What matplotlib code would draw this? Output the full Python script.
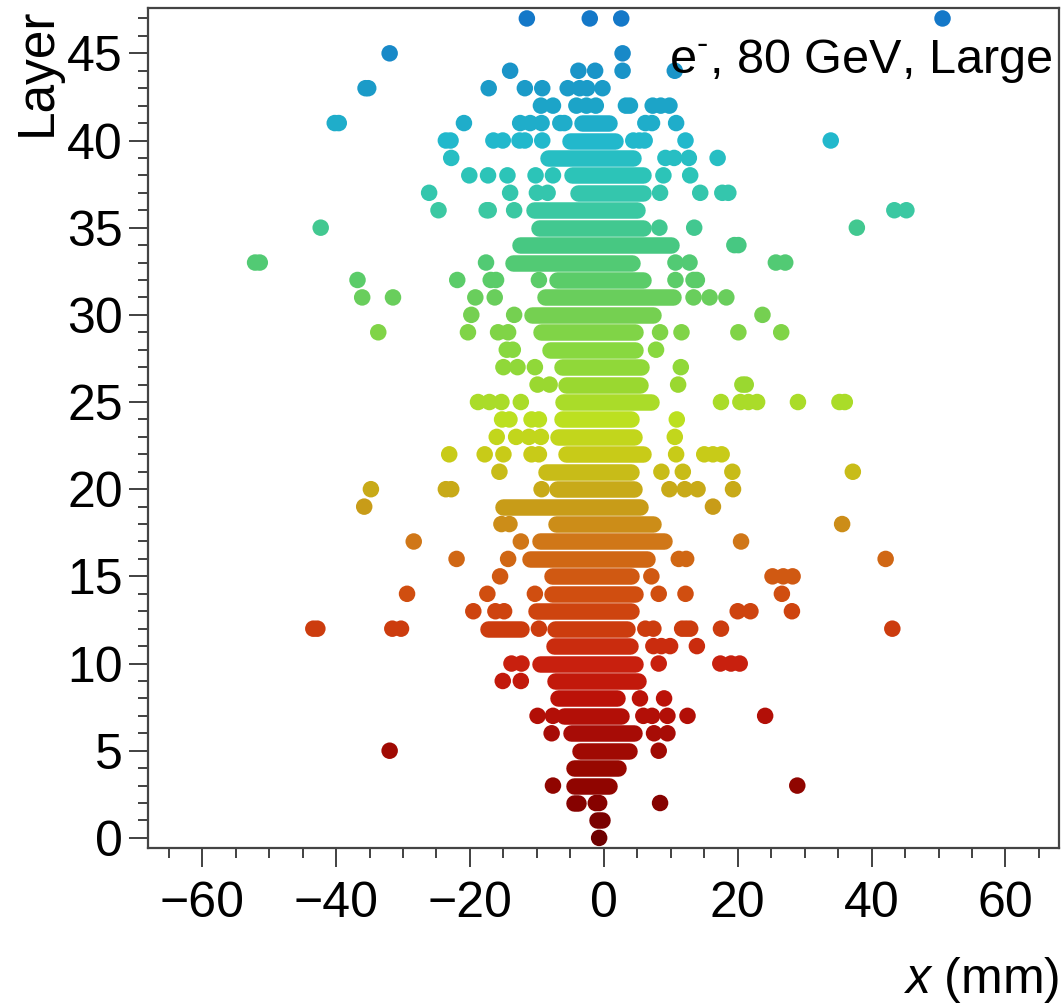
import numpy as np
import matplotlib
matplotlib.use("Agg")
import matplotlib.pyplot as plt
from matplotlib.colors import LinearSegmentedColormap, Normalize
from matplotlib.ticker import MultipleLocator

plt.rcParams['font.family'] = ['Liberation Sans', 'DejaVu Sans']
plt.rcParams['mathtext.fontset'] = 'custom'
plt.rcParams['mathtext.rm'] = 'Liberation Sans'
plt.rcParams['mathtext.it'] = 'Liberation Sans:italic'

# ---------------- data (x in mm, by layer index 0..47) ----------------
n_layers = 48
# isolated hits per layer
hits_x = [
    [-0.7],                                                            # 0
    [],                                                                # 1
    [-1.2, -0.7, 8.4],                                                 # 2
    [-7.6, 28.9],                                                      # 3
    [],                                                                # 4
    [-32.0, 8.2],                                                      # 5
    [-7.8, 7.5, 9.5],                                                  # 6
    [-9.9, -7.6, 5.9, 7.2, 9.5, 12.5, 24.1],                           # 7
    [5.4, 9.0],                                                        # 8
    [-15.1, -12.4],                                                    # 9
    [-13.8, -12.3, 8.2, 17.4, 19.0, 20.3],                             # 10
    [7.4, 8.6, 9.9, 13.9],                                             # 11
    [-43.4, -42.8, -31.6, -30.3, -9.7, 6.2, 7.4, 11.7, 12.3, 12.9, 17.5, 43.1],  # 12
    [-19.5, -16.2, -14.9, 20.0, 21.9, 28.1],                           # 13
    [-29.4, -17.4, -10.3, 8.2, 12.2, 26.6],                            # 14
    [-15.5, 7.1, 25.2, 26.8, 28.2],                                    # 15
    [-22.0, -14.3, 11.2, 12.3, 42.1],                                  # 16
    [-28.4, -12.4, 20.5],                                              # 17
    [-15.3, -14.1, 35.6],                                              # 18
    [-35.8, 16.3],                                                     # 19
    [-34.8, -23.6, -22.8, -9.3, 9.8, 12.1, 14.0, 19.3],                # 20
    [-15.6, 8.6, 11.8, 19.2, 37.2],                                    # 21
    [-23.1, -17.8, -15.0, -10.8, -9.7, 10.8, 15.0, 16.3, 17.6],        # 22
    [-16.0, -13.1, -11.2, -9.4, 10.6],                                 # 23
    [-15.2, -14.1, -10.8, -9.7, 10.9],                                 # 24
    [-18.8, -17.1, -15.3, -12.4, 17.5, 20.4, 21.6, 22.9, 29.0, 35.2, 36.0],  # 25
    [-9.9, -8.1, 11.1, 20.7, 21.2],                                    # 26
    [-15.0, -12.9, -10.3, 11.5],                                       # 27
    [-14.5, -13.6, 7.8],                                               # 28
    [-33.7, -20.3, -15.8, -14.3, 8.4, 11.6, 20.1, 26.5],               # 29
    [-19.8, -13.4, 23.7],                                              # 30
    [-36.1, -31.5, -19.2, -16.3, 13.4, 15.8, 18.3],                    # 31
    [-36.8, -21.9, -16.9, -16.1, -9.7, 10.7, 13.4, 13.9],              # 32
    [-52.1, -51.4, -17.6, 10.7, 12.8, 25.7, 27.1],                     # 33
    [19.5, 20.1],                                                      # 34
    [-42.3, 8.3, 13.5, 37.8],                                          # 35
    [-24.7, -17.5, -17.2, -13.4, 43.4, 45.2],                          # 36
    [-26.1, -14.0, -10.0, -8.4, 8.4, 14.4, 17.7, 18.6],                # 37
    [-20.1, -17.3, -14.4, -10.2, -7.6, 8.9, 12.9],                     # 38
    [-22.8, 9.2, 10.5, 12.7, 17.0],                                    # 39
    [-23.6, -22.9, -16.5, -15.1, -12.6, -11.8, -9.2, 4.4, 5.3, 6.1, 12.2, 33.9],  # 40
    [-40.2, -39.6, -20.9, -12.5, -11.0, -9.3, -6.5, -5.9, 6.2, 7.2, 10.8],        # 41
    [-9.4, -7.6, -4.1, -2.6, -1.2, 3.3, 3.9, 7.3, 8.5, 9.8],           # 42
    [-35.6, -35.2, -17.2, -11.8, -9.2, -5.4, -3.6, -2.5, -0.2],        # 43
    [-14.0, -3.8, -1.3, 2.8, 10.6],                                    # 44
    [-32.0, 2.8],                                                      # 45
    [],                                                                # 46
    [-11.5, -2.1, 2.6, 50.6],                                          # 47
]
# contiguous runs of hits in the shower core (first hit, last hit) per layer
core_runs = [
    [], [(-1.0, -0.3)], [(-4.5, -3.9)], [(-4.5, 0.8)], [(-4.4, 2.1)],
    [(-3.5, 3.8)], [(-4.9, 4.5)], [(-6.0, 2.6)], [(-6.8, 2.0)], [(-7.3, 5.1)],
    [(-9.5, 4.7)], [(-7.5, 3.9)], [(-17.3, -12.4), (-7.3, 3.4)], [(-10.1, 4.1)], [(-7.7, 4.6)],
    [(-7.7, 4.1)], [(-11.1, 6.4)], [(-9.5, 9.0)], [(-7.1, 7.4)], [(-15.1, 5.4)],
    [(-7.0, 4.5)], [(-8.7, 4.1)], [(-5.6, 5.9)], [(-6.8, 4.5)], [(-6.2, 4.0)],
    [(-6.1, 7.0)], [(-5.6, 5.4)], [(-6.2, 5.6)], [(-8.0, 4.6)], [(-9.4, 4.7)],
    [(-10.7, 7.4)], [(-8.8, 10.4)], [(-7.0, 5.9)], [(-13.5, 4.2)], [(-12.5, 10.1)],
    [(-9.7, 5.9)], [(-10.5, 4.9)], [(-3.8, 5.9)], [(-4.7, 5.9)], [(-8.4, 4.4)],
    [(-5.0, 1.6)], [(-3.2, 0.7)], [], [], [],
    [], [], [],
]
xticks = [-60, -40, -20, 0, 20, 40, 60]
yticks = [0, 5, 10, 15, 20, 25, 30, 35, 40, 45]

palette_layers = [0, 2, 4, 6, 8, 10, 12, 14, 16, 17, 18, 19, 20, 22, 24, 26, 28, 30, 32, 34, 36, 38, 40, 42, 44, 47]
palette_colors = ['#6e0000', '#880200', '#980800', '#a80c06', '#bc1208', '#c8200e', '#cc3c0e', '#d04e10',
                  '#d06614', '#d07818', '#cc8c18', '#c89c18', '#c8ac18', '#c8cc18', '#bce020', '#9ad830',
                  '#88d840', '#76d050', '#5ccc68', '#48c880', '#3cc8a0', '#2cc4b8', '#22b8cc', '#1ca4c8',
                  '#1a94c8', '#1478c8']

# ---------------- figure ----------------
W, H, DPI = 1063, 1008, 100
fig = plt.figure(figsize=(W / DPI, H / DPI), dpi=DPI)
ax = fig.add_axes([148 / W, 1 - 848 / H, (1059 - 148) / W, (848 - 8) / H])

cmap = LinearSegmentedColormap.from_list(
    'layers', [(l / 47.0, c) for l, c in zip(palette_layers, palette_colors)])
norm = Normalize(0, 47)

dot_pt = 16.5 * 72 / DPI   # marker diameter in points
for layer in range(n_layers):
    col = cmap(norm(layer))
    for (s, e) in core_runs[layer]:
        ax.plot([s, e], [layer, layer], color=col, lw=dot_pt, solid_capstyle='round', zorder=2)
    xs = hits_x[layer]
    if xs:
        ax.scatter(xs, [layer] * len(xs), s=dot_pt ** 2, color=col, edgecolors='none', zorder=3)

ax.set_xlim(-68.1, 68.0)
ax.set_ylim(-0.58, 47.6)
ax.set_xticks(xticks)
ax.set_yticks(yticks)
ax.xaxis.set_minor_locator(MultipleLocator(5))
ax.yaxis.set_minor_locator(MultipleLocator(1))
ax.tick_params(axis='both', which='major', labelsize=36, direction='out', length=14, width=1.3, color='#333333')
ax.tick_params(axis='both', which='minor', direction='out', length=7, width=1.3, color='#333333')
ax.tick_params(axis='x', which='major', pad=10)
ax.tick_params(axis='y', which='major', pad=4)
for sp in ax.spines.values():
    sp.set_linewidth(1.6)
    sp.set_color('#444444')

ax.set_xlabel(r'$x$ (mm)', fontsize=36, loc='right', labelpad=20)
ax.set_ylabel('Layer', fontsize=37, loc='top', labelpad=4)

ax.text(0.993, 0.965, r'e$^{\text{-}}$, 80 GeV, Large', transform=ax.transAxes,
        ha='right', va='top', fontsize=35, zorder=5)

fig.savefig('out.png', dpi=DPI)
